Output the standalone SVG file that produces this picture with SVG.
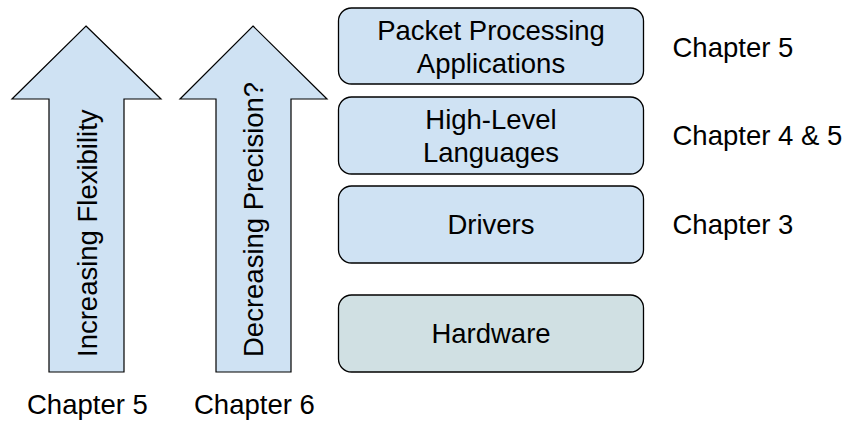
<svg xmlns="http://www.w3.org/2000/svg" width="844" height="421" viewBox="0 0 844 421">
  <style>
    .lbl { font-family: "Liberation Sans", Arial, sans-serif; font-size: 27.5px; fill: #000; }
    .mid { text-anchor: middle; }
    .arrow { fill: #cfe2f3; stroke: #000; stroke-width: 1.2; stroke-linejoin: miter; }
    .layer { fill: #cfe2f3; stroke: #000; stroke-width: 1.3; }
    .hw { fill: #d0e0e3; stroke: #000; stroke-width: 1.3; }
  </style>

  <!-- Upward arrows -->
  <g id="flexibility">
    <polygon class="arrow" points="86,26 161,99 124,99 124,372 49,372 49,99 12,99"/>
    <text class="lbl" transform="translate(96.5,357) rotate(-90)">Increasing Flexibility</text>
    <text class="lbl" x="27" y="413.5">Chapter 5</text>
  </g>
  <g id="precision">
    <polygon class="arrow" points="253,26 327,99 291,99 291,372 216,372 216,99 180,99"/>
    <text class="lbl" transform="translate(262.5,357) rotate(-90)">Decreasing Precision?</text>
    <text class="lbl" x="194" y="413.5">Chapter 6</text>
  </g>

  <!-- Layer stack -->
  <g id="applications">
    <rect class="layer" x="338.5" y="8" width="305" height="76" rx="13"/>
    <text class="lbl mid" x="491" y="39.5">Packet Processing</text>
    <text class="lbl mid" x="491" y="72.7">Applications</text>
  </g>
  <g id="languages">
    <rect class="layer" x="338.5" y="97" width="305" height="77" rx="13"/>
    <text class="lbl mid" x="491" y="129.3">High-Level</text>
    <text class="lbl mid" x="491" y="162">Languages</text>
  </g>
  <g id="drivers">
    <rect class="layer" x="338.5" y="186" width="305" height="77" rx="13"/>
    <text class="lbl mid" x="491" y="234">Drivers</text>
  </g>
  <g id="hardware">
    <rect class="hw" x="338.5" y="295" width="305" height="77" rx="13"/>
    <text class="lbl mid" x="491" y="343.3">Hardware</text>
  </g>

  <!-- Chapter references -->
  <g id="chapters">
    <text class="lbl" x="672.5" y="56.5">Chapter 5</text>
    <text class="lbl" x="672.5" y="145">Chapter 4 &amp; 5</text>
    <text class="lbl" x="672.5" y="233.5">Chapter 3</text>
  </g>

  <g id="connectors"/>
</svg>
